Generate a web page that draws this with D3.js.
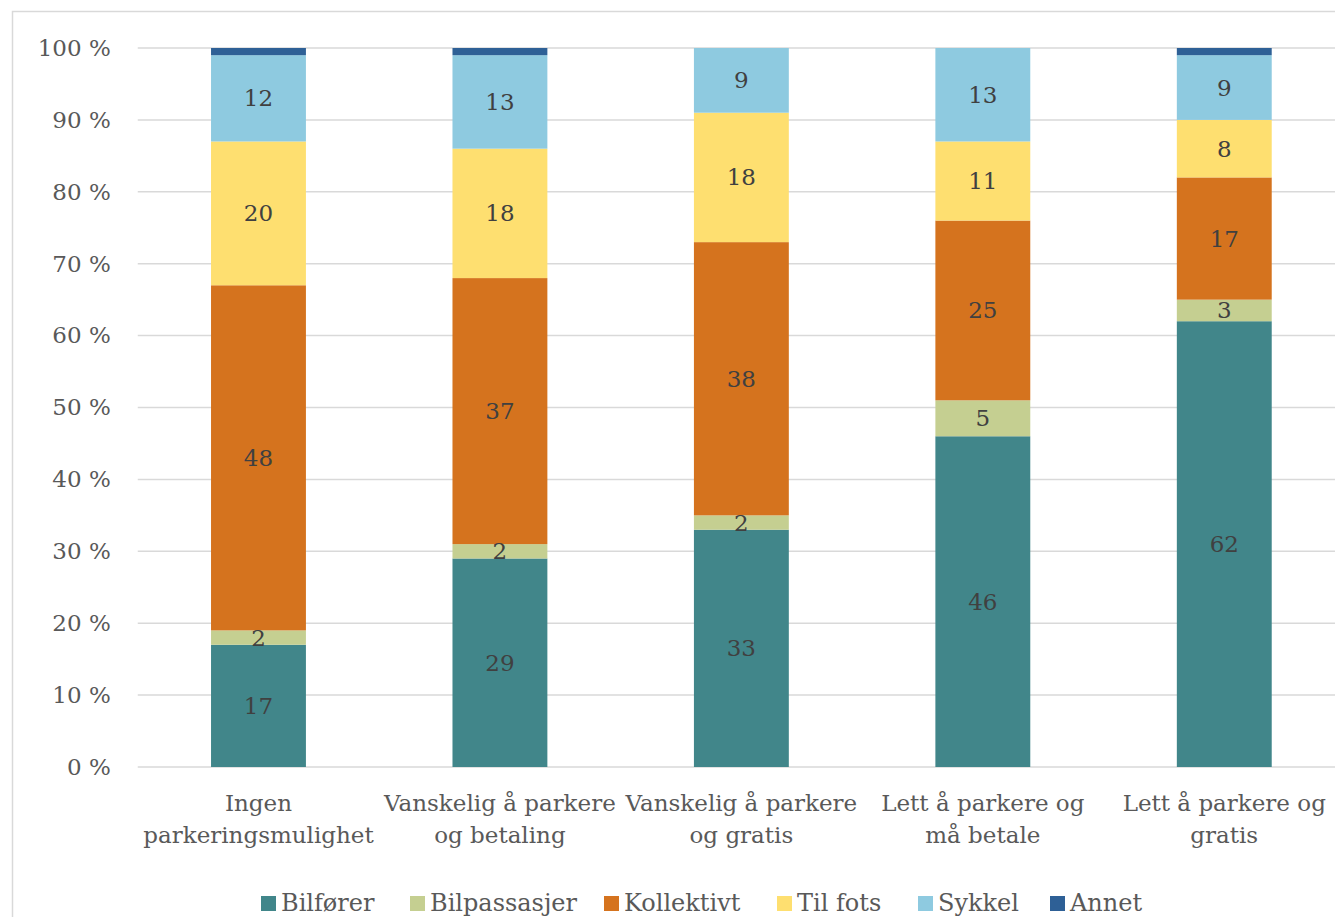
<!DOCTYPE html>
<html>
<head>
<meta charset="utf-8">
<script src="https://cdn.jsdelivr.net/npm/d3@7/dist/d3.min.js"></script>
<style>
  html, body { margin: 0; padding: 0; background: #fff; }
  svg { display: block; }
  text { font-family: "DejaVu Serif", "Liberation Serif", serif; }
</style>
</head>
<body>
<svg id="chart" width="1335" height="917"></svg>
<script>
// Travel mode shares (%) by parking situation at destination
const categories = [
  ["Ingen", "parkeringsmulighet"],
  ["Vanskelig å parkere", "og betaling"],
  ["Vanskelig å parkere", "og gratis"],
  ["Lett å parkere og", "må betale"],
  ["Lett å parkere og", "gratis"]
];
const seriesNames = ["Bilfører", "Bilpassasjer", "Kollektivt", "Til fots", "Sykkel", "Annet"];
const bilforer     = [17, 29, 33, 46, 62];
const bilpassasjer = [2, 2, 2, 5, 3];
const kollektivt   = [48, 37, 38, 25, 17];
const tilFots      = [20, 18, 18, 11, 8];
const sykkel       = [12, 13, 9, 13, 9];
const annet        = [1, 1, 0, 0, 1];
const yTicks = [0, 10, 20, 30, 40, 50, 60, 70, 80, 90, 100];

const colors = ["#41868a", "#c5cf91", "#d5731e", "#fedf70", "#8ecae0", "#2e6096"];
const seriesValues = [bilforer, bilpassasjer, kollektivt, tilFots, sykkel, annet];

const rows = categories.map((c, i) => {
  const r = { idx: i };
  seriesNames.forEach((s, k) => { r[s] = seriesValues[k][i]; });
  return r;
});

const svg = d3.select("#chart");
const FONT = "DejaVu Serif, Liberation Serif, serif";

// outer chart frame
svg.append("rect")
  .attr("x", 12.5).attr("y", 11.5)
  .attr("width", 1340).attr("height", 920)
  .attr("fill", "none").attr("stroke", "#d9d9d9").attr("stroke-width", 1.5);

const plotLeft = 137.75, plotRight = 1345, plotTop = 48, plotBottom = 767;

const x = d3.scaleBand().domain(d3.range(categories.length)).range([plotLeft, plotRight]).paddingInner(0.607).paddingOuter(0.3035);
const y = d3.scaleLinear().domain([0, 100]).range([plotBottom, plotTop]);

// gridlines
svg.append("g")
  .selectAll("line").data(yTicks).join("line")
  .attr("x1", plotLeft).attr("x2", plotRight)
  .attr("y1", d => y(d)).attr("y2", d => y(d))
  .attr("stroke", "#d9d9d9").attr("stroke-width", 1.5);

// y axis labels
const yAxis = d3.axisLeft(y).tickValues(yTicks).tickSize(0).tickPadding(27).tickFormat(d => d + " %");
svg.append("g").attr("transform", `translate(${plotLeft},0)`).call(yAxis)
  .call(g => g.select(".domain").remove())
  .selectAll("text")
  .attr("font-family", FONT)
  .attr("font-size", 23).attr("fill", "#595959");

// stacked bars
const stack = d3.stack().keys(seriesNames).offset(d3.stackOffsetExpand);
const layers = stack(rows);

const gLayers = svg.append("g").selectAll("g").data(layers).join("g")
  .attr("fill", (d, i) => colors[i]);

gLayers.selectAll("rect").data(d => d).join("rect")
  .attr("x", d => x(d.data.idx))
  .attr("width", x.bandwidth())
  .attr("y", d => y(d[1] * 100))
  .attr("height", d => y(d[0] * 100) - y(d[1] * 100));

// value labels (not for Annet)
layers.forEach((layer, k) => {
  if (seriesNames[k] === "Annet") return;
  svg.append("g").selectAll("text").data(layer.filter(d => d.data[layer.key] > 0)).join("text")
    .attr("x", d => x(d.data.idx) + x.bandwidth() / 2)
    .attr("y", d => y((d[0] + d[1]) / 2 * 100))
    .attr("dy", "0.35em")
    .attr("text-anchor", "middle")
    .attr("font-family", FONT)
    .attr("font-size", 23)
    .attr("fill", "#404040")
    .text(d => d.data[layer.key]);
});

// category labels
const xLab = svg.append("g").selectAll("text").data(categories).join("text")
  .attr("text-anchor", "middle")
  .attr("font-family", FONT)
  .attr("font-size", 23)
  .attr("fill", "#595959");
xLab.each(function (lines, i) {
  const t = d3.select(this);
  lines.forEach((ln, j) => {
    t.append("tspan")
      .attr("x", x(i) + x.bandwidth() / 2)
      .attr("y", 811 + j * 32)
      .text(ln);
  });
});

// legend
const legendX = [261, 410, 604, 777, 918, 1050];
const legend = svg.append("g").selectAll("g").data(seriesNames).join("g")
  .attr("transform", (d, i) => `translate(${legendX[i]},896)`);
legend.append("rect").attr("width", 15).attr("height", 15).attr("fill", (d, i) => colors[i]);
legend.append("text").attr("x", 20).attr("y", 15).attr("font-family", FONT)
  .attr("font-size", 24).attr("fill", "#595959").text(d => d);
</script>
</body>
</html>
